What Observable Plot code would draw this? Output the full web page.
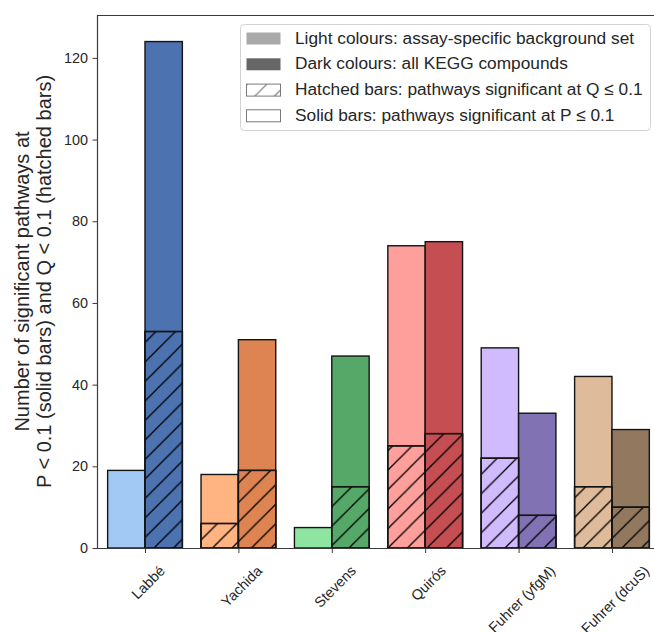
<!DOCTYPE html>
<html>
<head>
<meta charset="utf-8">
<script src="https://cdn.jsdelivr.net/npm/d3@7"></script>
<script src="https://cdn.jsdelivr.net/npm/@observablehq/plot@0.6"></script>
<style>
  html, body { margin: 0; padding: 0; background: #fff; }
  svg { display: block; }
</style>
</head>
<body>
<script>
// ---- data ----
const datasets = ["Labbé", "Yachida", "Stevens", "Quirós", "Fuhrer (yfgM)", "Fuhrer (dcuS)"];
const lightP = [19, 18, 5, 74, 49, 42];     // assay-specific background, P <= 0.1
const darkP  = [124, 51, 47, 75, 33, 29];   // all KEGG compounds, P <= 0.1
const lightQ = [0, 6, 0, 25, 22, 15];       // assay-specific background, Q <= 0.1
const darkQ  = [53, 19, 15, 28, 8, 10];     // all KEGG compounds, Q <= 0.1
const lightColors = ["#a1c9f4", "#ffb482", "#8de5a1", "#ff9f9b", "#d0bbff", "#debb9b"];
const darkColors  = ["#4c72b0", "#dd8452", "#55a868", "#c44e52", "#8172b3", "#937860"];
const yTicks = [0, 20, 40, 60, 80, 100, 120];
const yLabelLines = ["Number of significant pathways at", "P < 0.1 (solid bars) and Q < 0.1 (hatched bars)"];
const legendItems = [
  "Light colours: assay-specific background set",
  "Dark colours: all KEGG compounds",
  "Hatched bars: pathways significant at Q \u2264 0.1",
  "Solid bars: pathways significant at P \u2264 0.1"
];

// ---- build table ----
const barW = 0.4;
const idx = d3.range(datasets.length);
const bars = idx.flatMap(i => [
  {i, x1: i - barW, x2: i, p: lightP[i], q: lightQ[i], color: lightColors[i]},
  {i, x1: i, x2: i + barW, p: darkP[i], q: darkQ[i], color: darkColors[i]}
]);
const qBars = bars.filter(d => d.q > 0);

const xDomain = [-0.514, 5.45];
const yDomain = [0, 130.5];
const ink = "#262626";
const edge = "#141414";
const font = "'Liberation Sans', Arial, Helvetica, sans-serif";

const defs = () => {
  const g = d3.create("svg:g");
  const d = g.append("defs");
  const mk = (id, color, w, s) => {
    const p = d.append("pattern").attr("id", id).attr("patternUnits", "userSpaceOnUse")
      .attr("width", s).attr("height", s);
    p.append("path")
      .attr("d", `M0,${s} L${s},0 M${-s/2},${s/2} L${s/2},${-s/2} M${s/2},${s*1.5} L${s*1.5},${s/2}`)
      .attr("stroke", color).attr("stroke-width", w).attr("fill", "none");
  };
  mk("hatch", "#000", 1.3, 19.5);
  mk("hatchLegend", "#6e6e6e", 1.1, 19.5);
  return g.node();
};

const chart = Plot.plot({
  width: 654,
  height: 632,
  marginLeft: 97,
  marginRight: 0,
  marginTop: 15,
  marginBottom: 84,
  style: {fontFamily: font, background: "white", color: ink},
  x: {type: "linear", domain: xDomain, axis: null},
  y: {domain: yDomain, axis: null},
  color: {type: "identity"},
  marks: [
    defs,
    Plot.rect(bars, {x1: "x1", x2: "x2", y1: 0, y2: "p", fill: "color", stroke: edge, strokeWidth: 1.4}),
    Plot.rect(qBars, {x1: "x1", x2: "x2", y1: 0, y2: "q", fill: "color", stroke: edge, strokeWidth: 1.4}),
    Plot.rect(qBars, {x1: "x1", x2: "x2", y1: 0, y2: "q", fill: "url(#hatch)", stroke: edge, strokeWidth: 1.4}),
    Plot.ruleY([yDomain[0]], {stroke: "#3a3a3a", strokeWidth: 1.2}),
    Plot.ruleY([yDomain[1]], {stroke: "#3a3a3a", strokeWidth: 1.2}),
    Plot.ruleX([xDomain[0]], {stroke: "#3a3a3a", strokeWidth: 1.2}),
    Plot.axisY(yTicks, {tickSize: 4.5, tickPadding: 5, fontSize: 14.4, stroke: "#3a3a3a", fill: ink, label: null}),
    Plot.axisX(idx, {tickSize: 5, tickFormat: () => "", stroke: "#3a3a3a", label: null}),
    Plot.text(idx, {
      x: d => d, y: yDomain[0], text: d => datasets[d],
      rotate: -45, textAnchor: "end", lineAnchor: "middle",
      dy: 20, fontSize: 14.4, fill: ink
    })
  ]
});

document.body.append(chart);
const svg = d3.select(chart);

// center rotated x labels' bounding boxes on their ticks
svg.selectAll("text").filter(function () { return datasets.includes(this.textContent); })
  .each(function () {
    const L = this.getComputedTextLength();
    const t = this.getAttribute("transform") || "";
    const s = L * Math.SQRT1_2 / 2 + 3;
    this.setAttribute("transform", `translate(${s},0) ${t}`);
  });

// y axis label (two lines, rotated)
const yMid = (15 + 548) / 2;
[28.5, 50.5].forEach((bx, k) => {
  svg.append("text")
    .attr("transform", `translate(${bx},${yMid}) rotate(-90)`)
    .attr("text-anchor", "middle")
    .attr("font-size", 20)
    .attr("font-family", font)
    .attr("fill", ink)
    .text(yLabelLines[k]);
});

// legend
const lg = svg.append("g").attr("text-anchor", "start");
lg.append("rect").attr("x", 240.5).attr("y", 24.5).attr("width", 410).attr("height", 106)
  .attr("rx", 4).attr("fill", "white").attr("fill-opacity", 0.85)
  .attr("stroke", "#d2d2d2").attr("stroke-width", 1);
const baselines = [43.5, 69.3, 95.1, 120.8];
const patchFill = ["#a9a9a9", "#666666", "white", "white"];
legendItems.forEach((label, k) => {
  const b = baselines[k];
  lg.append("rect").attr("x", 246.5).attr("y", b - 11).attr("width", 34).attr("height", 12)
    .attr("fill", patchFill[k])
    .attr("stroke", k >= 2 ? "#7a7a7a" : "none").attr("stroke-width", 1);
  if (k === 2) {
    lg.append("rect").attr("x", 246.5).attr("y", b - 11).attr("width", 34).attr("height", 12)
      .attr("fill", "url(#hatchLegend)").attr("stroke", "none");
  }
  lg.append("text").attr("x", 295).attr("y", b).attr("text-anchor", "start")
    .attr("font-size", 17.3).attr("font-family", font).attr("fill", ink)
    .text(label);
});
</script>
</body>
</html>
